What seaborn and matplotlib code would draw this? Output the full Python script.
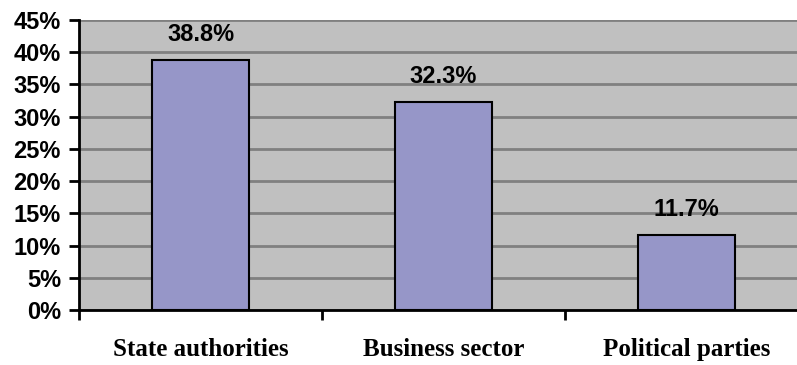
import matplotlib
matplotlib.use("Agg")
import matplotlib.pyplot as plt
import seaborn as sns
import pandas as pd
from matplotlib.ticker import FixedLocator

categories = ["State authorities", "Business sector", "Political parties"]
shares = [38.8, 32.3, 11.7]
y_ticks = [0, 5, 10, 15, 20, 25, 30, 35, 40, 45]
y_tick_labels = [f"{v}%" for v in y_ticks]

df = pd.DataFrame({"category": categories, "share": shares})

sns.set_theme(style="white")
plt.rcParams["font.family"] = ["Liberation Sans", "DejaVu Sans"]

fig = plt.figure(figsize=(7.97, 3.65), dpi=100)
ax = fig.add_axes([79 / 797, 55 / 365, 729 / 797, 290 / 365])
ax.set_facecolor("#C0C0C0")

sns.barplot(data=df, x="category", y="share", ax=ax, color="#9696C8",
            saturation=1, width=0.4, edgecolor="black", linewidth=1.5, zorder=3)

ax.set_xlim(-0.5, 2.5)
ax.set_ylim(0, 45)
ax.set_yticks(y_ticks)
ax.set_yticklabels(y_tick_labels, fontsize=17, fontweight="bold", color="black")
ax.yaxis.grid(True, color="#808080", linewidth=2, zorder=1)
ax.set_axisbelow(True)

# category labels at centres, tick marks at category boundaries
ax.set_xticks(range(len(categories)))
ax.set_xticklabels(categories, fontsize=18, fontweight="bold",
                   family=["Liberation Serif", "DejaVu Serif"], color="black")
ax.xaxis.set_minor_locator(FixedLocator([-0.5, 0.5, 1.5]))
ax.tick_params(axis="x", which="major", length=0, pad=20)
ax.tick_params(axis="x", which="minor", length=7, width=2, color="black", direction="out", bottom=True)
ax.tick_params(axis="y", which="major", length=7, width=2, color="black", direction="out", left=True, pad=6)

for side in ["top", "right"]:
    ax.spines[side].set_visible(False)
for side in ["left", "bottom"]:
    ax.spines[side].set_color("black")
    ax.spines[side].set_linewidth(2)
    ax.spines[side].set_zorder(5)

ax.set_xlabel("")
ax.set_ylabel("")

for i, v in enumerate(shares):
    ax.annotate(f"{v}%", (i, v), xytext=(0, 10), textcoords="offset points",
                ha="center", va="bottom", fontsize=17, fontweight="bold", color="black")

fig.savefig("out.png", dpi=100)
